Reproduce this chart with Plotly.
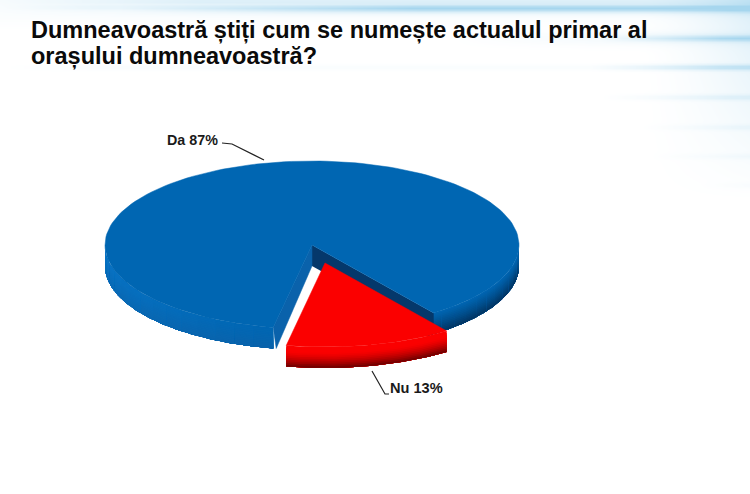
import numpy as np
import plotly.graph_objects as go

# ---- data ----
LABELS = ["Da", "Nu"]
VALUES = [87, 13]
TITLE_LINES = ["Dumneavoastră știți cum se numește actualul primar al", "orașului dumneavoastră?"]

# ---- geometry (pixel-like axis units) ----
W, H = 750, 494
CX, CY, RX, RY = 312.0, 245.0, 207.0, 84.0
DEPTH = 21.0
START = 54.0
EXPLODE = (13.0, 18.0)
LAYERS = 12


def hex2rgb(h):
    return np.array([int(h[i:i + 2], 16) for i in (1, 3, 5)], float)


def mix(a, b, t):
    c = hex2rgb(a) * (1 - t) + hex2rgb(b) * t
    return "rgb(%d,%d,%d)" % tuple(c)


def mix3(a, b, t):
    c = np.array(a) * (1 - t) + np.array(b) * t
    return "rgb(%d,%d,%d)" % tuple(c)


def pt(theta, cx=CX, cy=CY, z=0.0):
    r = np.radians(theta)
    return cx + RX * np.cos(r), cy + RY * np.sin(r) + z


fig = go.Figure()

# pale streaked backdrop: (y centre, y sigma, x where it fades in, fade width, strength)
STREAKS = [(1, 2.0, 0, 200, .30), (8, 2.5, 120, 300, .75), (7, 2.0, 0, 100, .18), (12, 3, 0, 300, .10),
           (38, 2.0, 600, 120, .60), (38, 5, 450, 200, .15), (67, 2.0, 590, 130, .50), (67, 2.0, 0, 100, .06),
           (97, 2.0, 600, 130, .25), (127, 2.0, 640, 100, .14), (156, 2.0, 650, 100, .10), (185, 2, 700, 60, .06)]
gx = np.linspace(0, W, 376)
gy = np.linspace(0, H, 248)
GX, GY = np.meshgrid(gx, gy)
field = np.clip((GX - 640) / 110, 0, 1) ** 1.5 * np.clip(1 - GY / 200, 0, 1) * 0.35
field += np.clip(1 - GY / 30, 0, 1) * 0.10
for yc, sig, xs, fw, s in STREAKS:
    field += s * np.exp(-((GY - yc) / sig) ** 2 / 2) * np.clip((GX - xs) / fw, 0, 1)
fig.add_trace(go.Heatmap(x=gx, y=gy, z=np.clip(field, 0, 1), zmin=0, zmax=1, zsmooth="best", showscale=False,
                         colorscale=[[0, "#ffffff"], [1, "#a6d6ee"]], hoverinfo="skip"))


def poly(xs, ys, color, w=0.0):
    fig.add_trace(go.Scatter(x=list(xs) + [xs[0]], y=list(ys) + [ys[0]], mode="lines", fill="toself",
                             fillcolor=color, line=dict(color=color, width=w),
                             hoverinfo="skip", showlegend=False))


def wedge_top(a0, a1, cx, cy, color):
    th = np.linspace(a0, a1, 160)
    xs, ys = pt(th, cx, cy)
    poly([cx] + list(xs), [cy] + list(ys), color, 0.5)


def rim(a0, a1, cx, cy, colfn, nseg):
    edges = np.linspace(a0, a1, nseg + 1)
    for j in range(nseg):
        th = np.linspace(edges[j], edges[j + 1] + (a1 - a0) / nseg * 0.5, 8 if nseg > 1 else 60)
        th = np.clip(th, a0, a1)
        x, y = pt(th, cx, cy)
        for i in range(LAYERS):
            z0 = DEPTH * i / LAYERS
            poly(list(x) + list(x[::-1]), list(y + z0) + list((y + DEPTH)[::-1]),
                 colfn(0.5 * (edges[j] + edges[j + 1]), (i + 0.5) / LAYERS))


def blue_rim_color(theta, t):
    r = np.clip(theta / 180.0, 0, 1)
    dark = hex2rgb("#033563")
    mid = hex2rgb("#0a62aa")
    if r < 0.36:
        bottom = dark
        top = hex2rgb("#0066b2")
    elif r < 0.55:
        f = (r - .36) / .19
        bottom = dark * (1 - f) + mid * f
        top = hex2rgb("#0066b2")
    else:
        f = (r - .55) / .45
        bottom = mid * (1 - f) + hex2rgb("#0a6cb8") * f
        top = hex2rgb("#0066b2") * (1 - f) + hex2rgb("#0b76c8") * f
    return mix3(top, bottom, t ** 1.2)


def red_rim_color(theta, t):
    return mix("#fb0000", "#6a0000", max(0, (t - 0.25) / 0.75) ** 1.5)


sweep = [v / sum(VALUES) * 360.0 for v in VALUES]
nu_a0, nu_a1 = START, START + sweep[1]
da_a0, da_a1 = nu_a1, nu_a1 + sweep[0]

# blue slice: outer rim, cut faces, top
rim(0, START + 2, CX, CY, blue_rim_color, 12)
rim(da_a0, 180, CX, CY, blue_rim_color, 14)
xa, ya = pt(START)
poly([CX, xa, xa, CX], [CY, ya, ya + DEPTH, CY + DEPTH], "#05386b")
xb, yb = pt(da_a0)
poly([CX, xb, xb + 3, CX], [CY, yb, yb + DEPTH, CY + DEPTH], "#0a62ab", 0.5)
wedge_top(da_a0, da_a1, CX, CY, "#0066b2")

# red slice: outer rim and top
rx, ry = CX + EXPLODE[0], CY + EXPLODE[1]
rim(nu_a0, nu_a1, rx, ry, red_rim_color, 1)
wedge_top(nu_a0, nu_a1, rx, ry, "#fb0000")

# leader lines
fig.add_trace(go.Scatter(x=[222, 232, 264], y=[143, 144, 160], mode="lines",
                         line=dict(color="#222222", width=1.2), hoverinfo="skip", showlegend=False))
fig.add_trace(go.Scatter(x=[372, 385, 389], y=[371, 394, 394], mode="lines",
                         line=dict(color="#222222", width=1.2), hoverinfo="skip", showlegend=False))

FONT = "Liberation Sans, Arial, sans-serif"
ann = [
    dict(x=29, y=30, text="<b>%s</b>" % TITLE_LINES[0], font=dict(size=23.5, color="#0a0a0a", family=FONT)),
    dict(x=29, y=56, text="<b>%s</b>" % TITLE_LINES[1], font=dict(size=23.5, color="#0a0a0a", family=FONT)),
    dict(x=165, y=140, text="<b>%s %d%%</b>" % (LABELS[0], VALUES[0]), font=dict(size=14.3, color="#1a1a1a", family=FONT)),
    dict(x=388, y=388, text="<b>%s %d%%</b>" % (LABELS[1], VALUES[1]), font=dict(size=14.6, color="#1a1a1a", family=FONT)),
]
for a in ann:
    a.update(xref="x", yref="y", xanchor="left", yanchor="middle", showarrow=False)

fig.update_layout(
    width=W, height=H, margin=dict(l=0, r=0, t=0, b=0), paper_bgcolor="white", plot_bgcolor="white",
    xaxis=dict(range=[0, W], visible=False, fixedrange=True),
    yaxis=dict(range=[H, 0], visible=False, fixedrange=True),
    annotations=ann, showlegend=False,
)
fig.write_html("out.html", config=dict(displayModeBar=False),
               post_script="document.body.style.margin='0';document.body.style.overflow='hidden';")
